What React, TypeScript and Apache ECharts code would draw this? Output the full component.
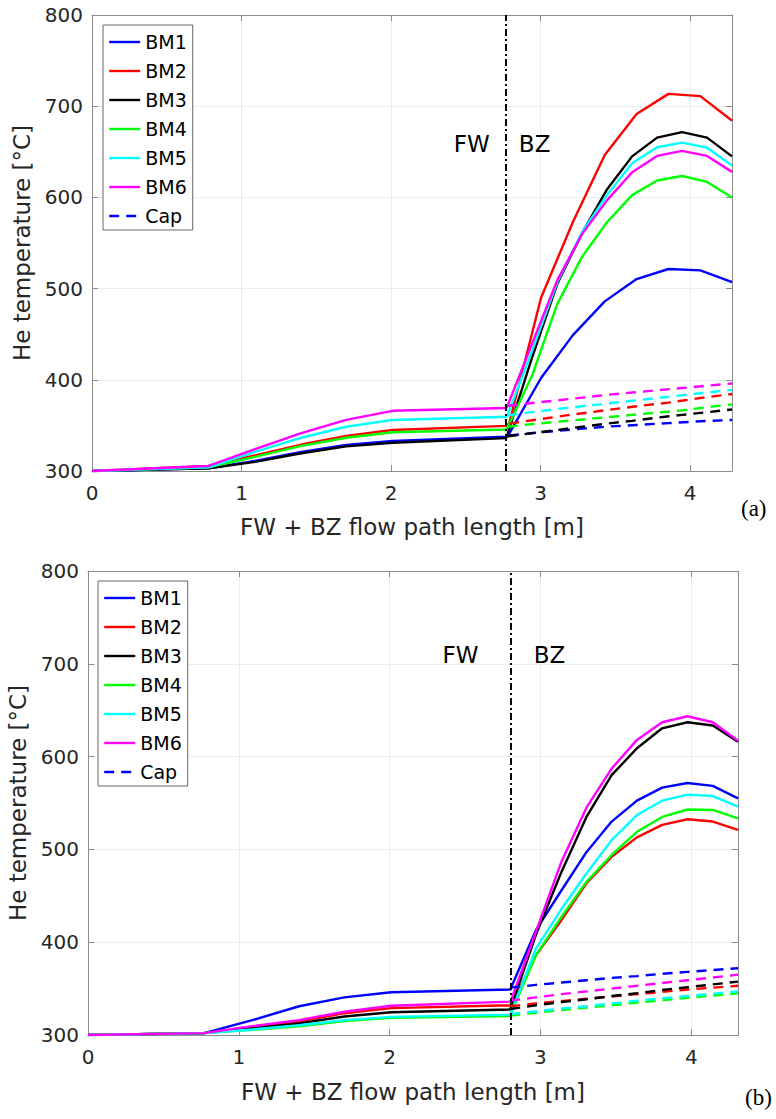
import React, { useEffect, useRef } from "react";
import * as echarts from "echarts";

// ---------- data ----------
const BM_NAMES = ["BM1", "BM2", "BM3", "BM4", "BM5", "BM6"];
const BM_COLORS = ["#0000ff", "#ff0000", "#000000", "#00ff00", "#00ffff", "#ff00ff"];
const X_TICKS = [0, 1, 2, 3, 4];
const Y_TICKS = [300, 400, 500, 600, 700, 800];

// Panel (a)
const xFW_a = [0, 0.78, 1.09, 1.4, 1.7, 2.01, 2.77];
const xBZ_a_BM12 = [2.79, 3.003, 3.216, 3.429, 3.642, 3.855, 4.068, 4.281];
const xBZ_a_BM36 = [2.78, 2.944, 3.111, 3.278, 3.445, 3.612, 3.779, 3.946, 4.113, 4.28];
const fw_a_BM1 = [300, 303, 311, 321, 328.5, 333, 337.5];
const fw_a_BM2 = [300, 305.5, 317, 329, 338.5, 345, 349.5];
const fw_a_BM3 = [300, 303, 310, 319.5, 327, 331, 336];
const fw_a_BM4 = [300, 304, 315.5, 327.5, 336.5, 342.5, 345.5];
const fw_a_BM5 = [300, 304, 321, 336.5, 348.5, 356, 359.5];
const fw_a_BM6 = [300, 305.5, 324, 341.5, 356, 366, 369];
const bz_a_BM1 = [341, 402, 449, 486, 510.5, 521.5, 520, 507];
const bz_a_BM2 = [352, 490, 573, 646.5, 691.5, 713.5, 711, 684];
const bz_a_BM3 = [341, 425, 505, 561, 609, 645, 665.5, 671.5, 665.5, 645];
const bz_a_BM4 = [348, 405, 483, 535, 573, 602.5, 618.5, 623.5, 617, 600];
const bz_a_BM5 = [362, 432, 507, 562, 603, 637.5, 655, 660, 654.5, 635];
const bz_a_BM6 = [372, 440, 509, 560, 597, 627.5, 645.5, 651, 645.5, 628];
const cap_a_BM1 = [339, 342.5, 345.5, 348.5, 350.5, 352.5, 354.5, 356];
const cap_a_BM2 = [352, 357, 362, 366.5, 371, 375, 380, 384.5];
const cap_a_BM3 = [338, 341.5, 345, 348.5, 352, 355, 358.5, 361.5, 364.5, 367.5];
const cap_a_BM4 = [348.5, 351.5, 354, 356.5, 359, 361.5, 364, 366.5, 370, 373];
const cap_a_BM5 = [361, 364.5, 368, 371, 374, 377, 380, 383, 386, 389];
const cap_a_BM6 = [371.5, 374.5, 377.5, 380.5, 383.5, 386, 388.5, 391, 393.5, 396];
const divider_a = 2.775;
const xMax_a = 4.28;

// Panel (b)
const xFW_b = [0, 0.77, 1.09, 1.4, 1.7, 2.01, 2.8];
const xBZ_b = [2.8, 2.97, 3.14, 3.305, 3.472, 3.64, 3.807, 3.975, 4.143, 4.31];
const fw_b_BM1 = [300, 302, 316, 331, 340.5, 346, 349];
const fw_b_BM2 = [300, 302, 309, 314.5, 323.5, 329, 332];
const fw_b_BM3 = [300, 302, 307.5, 312.5, 320, 324.5, 327.5];
const fw_b_BM4 = [300, 302, 305.5, 309.5, 315, 318.5, 320.5];
const fw_b_BM5 = [300, 302, 306, 310.5, 316, 319.5, 322];
const fw_b_BM6 = [300, 302, 309.5, 316, 325, 331.5, 336];
const bz_b_BM1 = [349, 413, 456, 497, 530, 552.5, 566.5, 571.5, 568.5, 555];
const bz_b_BM2 = [330.5, 386, 424, 463.5, 492, 513, 526.5, 532.5, 530, 521];
const bz_b_BM3 = [327, 408, 476, 535, 580, 609, 630.5, 637, 633.5, 616];
const bz_b_BM4 = [321.5, 386, 427.5, 465, 494, 519, 535, 543, 542.5, 533.5];
const bz_b_BM5 = [322, 393, 436, 474, 510, 537, 552.5, 559, 557.5, 546];
const bz_b_BM6 = [335, 411, 487, 545, 587, 618, 637, 643.5, 637, 617];
const cap_b_BM1 = [351, 354, 356.5, 359, 361.5, 363.5, 366, 368, 370, 372];
const cap_b_BM2 = [331, 334, 336.5, 339, 341.5, 344, 346.5, 349, 351, 353];
const cap_b_BM3 = [328, 332, 335.5, 338.5, 342, 345, 348.5, 351.5, 354.5, 357.5];
const cap_b_BM4 = [321, 324, 327, 329.5, 332, 335, 337.5, 340, 342.5, 345];
const cap_b_BM5 = [322.5, 325.5, 328.5, 331, 334, 337, 339.5, 342, 344.5, 347];
const cap_b_BM6 = [337, 340.5, 344, 347, 350, 353, 356, 359, 362, 365];
const divider_b = 2.8;
const xMax_b = 4.31;

// Region labels (data coordinates)
const regionLabels_a = [
  { name: "FW", x: 2.54, y: 659 },
  { name: "BZ", x: 2.96, y: 659 },
];
const regionLabels_b = [
  { name: "FW", x: 2.47, y: 709 },
  { name: "BZ", x: 3.06, y: 709 },
];

const X_TITLE = "FW + BZ flow path length [m]";
const Y_TITLE = "He temperature [°C]";

// ---------- helpers ----------
const pairs = (xs: number[], ys: number[]) => xs.map((x, i) => [x, ys[i]]);

const FONT = "DejaVu Sans";
const TXT = "#262626";
const AXIS_C = "#8c8c8c";
const LINE_W = 2.4;

type PanelDef = {
  grid: { left: number; top: number; width: number; height: number };
  xMax: number;
  fw: { xs: number[]; ys: number[][] };
  bz: { xs: number[][]; ys: number[][] };
  cap: number[][];
  divider: number;
  labels: { name: string; x: number; y: number }[];
  legend: { left: number; top: number };
  yNameGap: number;
  xNameGap: number;
};

const panels: PanelDef[] = [
  {
    grid: { left: 92, top: 15, width: 640, height: 456 },
    xMax: xMax_a,
    fw: { xs: xFW_a, ys: [fw_a_BM1, fw_a_BM2, fw_a_BM3, fw_a_BM4, fw_a_BM5, fw_a_BM6] },
    bz: {
      xs: [xBZ_a_BM12, xBZ_a_BM12, xBZ_a_BM36, xBZ_a_BM36, xBZ_a_BM36, xBZ_a_BM36],
      ys: [bz_a_BM1, bz_a_BM2, bz_a_BM3, bz_a_BM4, bz_a_BM5, bz_a_BM6],
    },
    cap: [cap_a_BM1, cap_a_BM2, cap_a_BM3, cap_a_BM4, cap_a_BM5, cap_a_BM6],
    divider: divider_a,
    labels: regionLabels_a,
    legend: { left: 103, top: 25 },
    yNameGap: 50,
    xNameGap: 44,
  },
  {
    grid: { left: 88, top: 571, width: 650, height: 464 },
    xMax: xMax_b,
    fw: { xs: xFW_b, ys: [fw_b_BM1, fw_b_BM2, fw_b_BM3, fw_b_BM4, fw_b_BM5, fw_b_BM6] },
    bz: {
      xs: [xBZ_b, xBZ_b, xBZ_b, xBZ_b, xBZ_b, xBZ_b],
      ys: [bz_b_BM1, bz_b_BM2, bz_b_BM3, bz_b_BM4, bz_b_BM5, bz_b_BM6],
    },
    cap: [cap_b_BM1, cap_b_BM2, cap_b_BM3, cap_b_BM4, cap_b_BM5, cap_b_BM6],
    divider: divider_b,
    labels: regionLabels_b,
    legend: { left: 98, top: 581 },
    yNameGap: 52,
    xNameGap: 45,
  },
];

function buildOption() {
  const grids: any[] = [];
  const xAxes: any[] = [];
  const yAxes: any[] = [];
  const series: any[] = [];
  const legends: any[] = [];

  panels.forEach((p, pi) => {
    grids.push({ ...p.grid, containLabel: false, outerBoundsMode: "none" });
    const xb = pi * 2;
    const yb = pi * 2;
    xAxes.push({
      type: "value",
      gridIndex: pi,
      position: "bottom",
      min: 0,
      max: p.xMax,
      interval: 1,
      name: X_TITLE,
      nameLocation: "middle",
      nameGap: p.xNameGap,
      nameTextStyle: { fontFamily: FONT, fontSize: 23, color: TXT },
      axisLine: { show: true, onZero: false, lineStyle: { color: AXIS_C, width: 1 } },
      axisTick: { show: true, inside: true, length: 6, lineStyle: { color: AXIS_C } },
      axisLabel: {
        margin: 12,
        fontFamily: FONT,
        fontSize: 20,
        color: TXT,
        formatter: (v: number) => (X_TICKS.includes(v) ? String(v) : ""),
      },
      splitLine: { show: true, lineStyle: { color: "#ebebeb", width: 1 } },
    });
    xAxes.push({
      type: "value",
      gridIndex: pi,
      position: "top",
      min: 0,
      max: p.xMax,
      interval: 1,
      axisLine: { show: true, onZero: false, lineStyle: { color: AXIS_C, width: 1 } },
      axisTick: { show: true, inside: true, length: 6, lineStyle: { color: AXIS_C } },
      axisLabel: { show: false },
      splitLine: { show: false },
    });
    yAxes.push({
      type: "value",
      gridIndex: pi,
      position: "left",
      min: 300,
      max: 800,
      interval: 100,
      name: Y_TITLE,
      nameLocation: "middle",
      nameGap: p.yNameGap,
      nameTextStyle: { fontFamily: FONT, fontSize: 23, color: TXT },
      axisLine: { show: true, onZero: false, lineStyle: { color: AXIS_C, width: 1 } },
      axisTick: { show: true, inside: true, length: 6, lineStyle: { color: AXIS_C } },
      axisLabel: {
        margin: 9,
        fontFamily: FONT,
        fontSize: 20,
        color: TXT,
        formatter: (v: number) => (Y_TICKS.includes(v) ? String(v) : ""),
      },
      splitLine: { show: true, lineStyle: { color: "#ebebeb", width: 1 } },
    });
    yAxes.push({
      type: "value",
      gridIndex: pi,
      position: "right",
      min: 300,
      max: 800,
      interval: 100,
      axisLine: { show: true, onZero: false, lineStyle: { color: AXIS_C, width: 1 } },
      axisTick: { show: true, inside: true, length: 6, lineStyle: { color: AXIS_C } },
      axisLabel: { show: false },
      splitLine: { show: false },
    });

    BM_NAMES.forEach((name, i) => {
      const data = pairs(p.fw.xs, p.fw.ys[i]).concat(pairs(p.bz.xs[i], p.bz.ys[i]));
      const s: any = {
        type: "line",
        name,
        xAxisIndex: xb,
        yAxisIndex: yb,
        data,
        symbol: "none",
        showSymbol: false,
        clip: true,
        color: BM_COLORS[i],
        lineStyle: { color: BM_COLORS[i], width: LINE_W },
        z: 3,
      };
      if (i === 0) {
        s.markLine = {
          silent: true,
          symbol: "none",
          label: { show: false },
          lineStyle: { color: "#000", width: 2, type: [7, 3, 2, 3] },
          data: [{ xAxis: p.divider }],
        };
        s.markPoint = {
          silent: true,
          symbol: "circle",
          symbolSize: 0,
          label: {
            show: true,
            position: "inside",
            formatter: "{b}",
            fontFamily: FONT,
            fontSize: 23,
            color: "#000",
          },
          data: p.labels.map((l) => ({ name: l.name, coord: [l.x, l.y] })),
        };
      }
      series.push(s);
    });
    BM_NAMES.forEach((name, i) => {
      series.push({
        type: "line",
        name: i === 0 ? "Cap" : "Cap " + name,
        xAxisIndex: xb,
        yAxisIndex: yb,
        data: pairs(p.bz.xs[i], p.cap[i]),
        symbol: "none",
        showSymbol: false,
        clip: true,
        color: BM_COLORS[i],
        lineStyle: { color: BM_COLORS[i], width: LINE_W, type: [10, 7] },
        z: 3,
      });
    });

    legends.push({
      show: true,
      orient: "vertical",
      left: p.legend.left,
      top: p.legend.top,
      data: [...BM_NAMES, "Cap"],
      itemWidth: 31,
      itemHeight: 20,
      itemGap: 9,
      padding: [7, 6, 4, 5],
      backgroundColor: "#ffffff",
      borderColor: "#666666",
      borderWidth: 1,
      borderRadius: 0,
      selectedMode: false,
      itemStyle: { opacity: 0, color: "rgba(0,0,0,0)", borderWidth: 0 },
      lineStyle: { width: 2.4 },
      textStyle: { fontFamily: FONT, fontSize: 19, color: "#000", lineHeight: 20 },
    });
  });

  return {
    animation: false,
    backgroundColor: "#ffffff",
    grid: grids,
    xAxis: xAxes,
    yAxis: yAxes,
    legend: legends,
    series,
    graphic: [
      {
        type: "text",
        left: 741,
        top: 497,
        style: { text: "(a)", font: '23px "Liberation Serif"', fill: "#000" },
      },
      {
        type: "text",
        left: 745,
        top: 1086,
        style: { text: "(b)", font: '23px "Liberation Serif"', fill: "#000" },
      },
    ],
  };
}

export default function App() {
  const ref = useRef<HTMLDivElement>(null);
  useEffect(() => {
    if (!ref.current) return;
    const chart = echarts.init(ref.current, null, { renderer: "svg" });
    chart.setOption(buildOption() as any);
    return () => chart.dispose();
  }, []);
  return (
    <div
      ref={ref}
      style={{ position: "absolute", left: 0, top: 0, width: 776, height: 1119, background: "#fff" }}
    />
  );
}
